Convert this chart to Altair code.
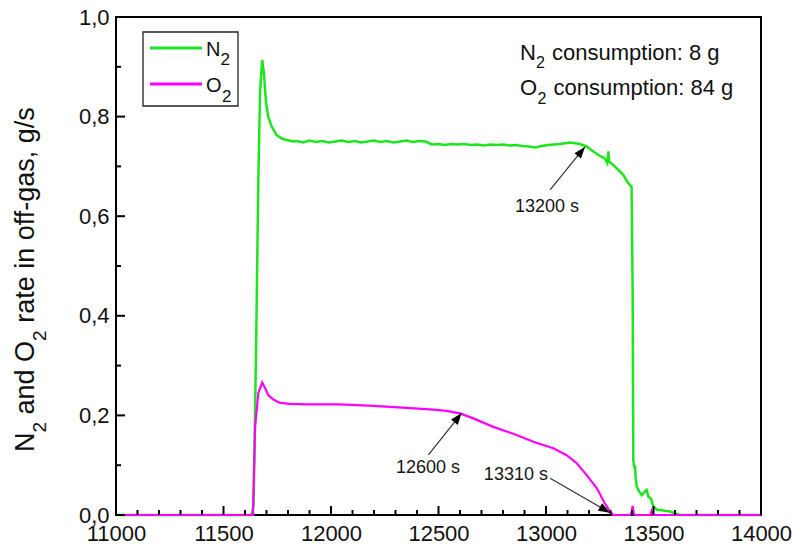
import math
import altair as alt
import pandas as pd

# ---------------- data ----------------
n2_t = [11000, 11630, 11640, 11652, 11662, 11670, 11680, 11688, 11698, 11708, 11724, 11747,
        11771, 11794, 11823, 11840, 11870, 11900, 11930, 11960, 11990, 12020, 12050, 12080,
        12110, 12140, 12170, 12200, 12230, 12260, 12290, 12320, 12350, 12380, 12410, 12440,
        12470, 12500, 12530, 12560, 12590, 12620, 12650, 12680, 12710, 12740, 12770, 12800,
        12830, 12860, 12890, 12920, 12950, 12980, 13010, 13065, 13112, 13158, 13189, 13220,
        13251, 13274, 13285, 13290, 13294, 13313, 13336, 13359, 13378, 13390, 13398, 13403,
        13406, 13410, 13414, 13417, 13422, 13434, 13445, 13460, 13468, 13476, 13487, 13491,
        13499, 13515, 13544, 13577, 13623, 14000]
n2_v = [0.0, 0.0, 0.02, 0.35, 0.67, 0.85, 0.914, 0.887, 0.827, 0.800, 0.780, 0.763,
        0.756, 0.753, 0.750, 0.751, 0.748, 0.752, 0.749, 0.751, 0.748, 0.750, 0.752, 0.749,
        0.751, 0.748, 0.750, 0.752, 0.749, 0.751, 0.748, 0.750, 0.752, 0.749, 0.751, 0.750,
        0.744, 0.745, 0.743, 0.745, 0.744, 0.745, 0.743, 0.744, 0.742, 0.744, 0.743, 0.744,
        0.742, 0.743, 0.741, 0.740, 0.738, 0.741, 0.743, 0.745, 0.748, 0.745, 0.740, 0.730,
        0.721, 0.716, 0.707, 0.730, 0.709, 0.703, 0.693, 0.683, 0.669, 0.663, 0.659, 0.450,
        0.110, 0.095, 0.100, 0.075, 0.057, 0.047, 0.040, 0.047, 0.050, 0.037, 0.033, 0.030,
        0.017, 0.011, 0.009, 0.007, 0.0, 0.0]

o2_t = [11000, 11637, 11647, 11662, 11680, 11693, 11708, 11732, 11763, 11809, 11887, 12042,
        12197, 12352, 12460, 12538, 12600, 12662, 12755, 12848, 12941, 13034, 13096, 13143,
        13189, 13236, 13274, 13298, 13313, 13390, 13398, 13403, 13408, 13414, 13485, 13491,
        13497, 14000]
o2_v = [0.0, 0.0, 0.177, 0.245, 0.266, 0.255, 0.241, 0.232, 0.225, 0.223, 0.222, 0.222,
        0.219, 0.215, 0.212, 0.209, 0.204, 0.194, 0.177, 0.163, 0.147, 0.134, 0.120, 0.104,
        0.080, 0.054, 0.023, 0.007, 0.0, 0.0, 0.005, 0.018, 0.004, 0.0, 0.0, 0.008,
        0.0, 0.0]

x_major = [11000, 11500, 12000, 12500, 13000, 13500, 14000]
x_minor = [11100, 11200, 11300, 11400, 11600, 11700, 11800, 11900, 12100, 12200, 12300,
           12400, 12600, 12700, 12800, 12900, 13100, 13200, 13300, 13400, 13600, 13700,
           13800, 13900]
y_major = [0.0, 0.2, 0.4, 0.6, 0.8, 1.0]
y_minor = [0.1, 0.3, 0.5, 0.7, 0.9]

ann_text = ["13200 s", "12600 s", "13310 s"]
ann_tx = [13005, 12451, 12860]
ann_ty = [0.618, 0.094, 0.080]
arr_t0 = [13019, 12453, 13019]
arr_v0 = [0.653, 0.1205, 0.0737]
arr_t1 = [13181, 12607, 13297]
arr_v1 = [0.739, 0.2042, 0.0047]

# text pieces (main text and subscript "2" drawn separately)
legend_main = ["N", "O"]
cons_main = ["N", "O"]
cons_rest = ["consumption: 8 g", "consumption: 84 g"]
title_parts = ["N", "2", "and O", "2", "rate in off-gas, g/s"]

# ---------------- layout ----------------
W, H = 645, 498
XD = [11000, 14000]
YD = [0.0, 1.0]
FONT = "Liberation Sans"
GREEN = "#1ee61e"
MAGENTA = "#ff00ff"
INK = "#111111"

xs = alt.Scale(domain=XD, nice=False, zero=False)
ys = alt.Scale(domain=YD, nice=False, zero=False)

px_per_t = W / (XD[1] - XD[0])
px_per_v = H / (YD[1] - YD[0])
angles = []
for a, b, c, d in zip(arr_t0, arr_v0, arr_t1, arr_v1):
    dx = (c - a) * px_per_t
    dy = -(d - b) * px_per_v
    angles.append(math.degrees(math.atan2(dx, -dy)) % 360)

lines_n2 = pd.DataFrame({"t": n2_t, "v": n2_v})
lines_o2 = pd.DataFrame({"t": o2_t, "v": o2_v})

n2_line = alt.Chart(lines_n2).mark_line(color=GREEN, strokeWidth=2.5).encode(
    x=alt.X("t:Q", scale=xs,
            axis=alt.Axis(values=x_major, title=None, labelFontSize=22, labelFont=FONT,
                          labelColor=INK, labelPadding=8, domain=False, ticks=False,
                          grid=False, labelFlush=False, labelOverlap=False, format="d")),
    y=alt.Y("v:Q", scale=ys,
            axis=alt.Axis(values=y_major, title=None, labelFontSize=22, labelFont=FONT,
                          labelColor=INK, labelPadding=7, domain=False, ticks=False,
                          grid=False, labelFlush=False, labelOverlap=False,
                          labelExpr="replace(format(datum.value, '.1f'), '.', ',')")),
)
o2_line = alt.Chart(lines_o2).mark_line(color=MAGENTA, strokeWidth=2.2).encode(
    x=alt.X("t:Q", scale=xs), y=alt.Y("v:Q", scale=ys))

# inward ticks
xt_major = alt.Chart(pd.DataFrame({"t": x_major})).mark_rule(color="black", strokeWidth=2).encode(
    x=alt.X("t:Q", scale=xs), y=alt.value(H), y2=alt.value(H - 9))
xt_minor = alt.Chart(pd.DataFrame({"t": x_minor})).mark_rule(color="black", strokeWidth=2).encode(
    x=alt.X("t:Q", scale=xs), y=alt.value(H), y2=alt.value(H - 5))
yt_major = alt.Chart(pd.DataFrame({"v": y_major})).mark_rule(color="black", strokeWidth=2).encode(
    y=alt.Y("v:Q", scale=ys), x=alt.value(0), x2=alt.value(9))
yt_minor = alt.Chart(pd.DataFrame({"v": y_minor})).mark_rule(color="black", strokeWidth=2).encode(
    y=alt.Y("v:Q", scale=ys), x=alt.value(0), x2=alt.value(5))

# annotations
ann_df = pd.DataFrame({"label": ann_text, "t": ann_tx, "v": ann_ty})
ann = alt.Chart(ann_df).mark_text(font=FONT, fontSize=18, color="#151515",
                                  align="center", baseline="middle").encode(
    x=alt.X("t:Q", scale=xs), y=alt.Y("v:Q", scale=ys), text="label:N")

arr_df = pd.DataFrame({"t0": arr_t0, "v0": arr_v0, "t1": arr_t1, "v1": arr_v1, "ang": angles})
arr_lines = alt.Chart(arr_df).mark_rule(color="#333333", strokeWidth=1.2).encode(
    x=alt.X("t0:Q", scale=xs), y=alt.Y("v0:Q", scale=ys),
    x2="t1:Q", y2="v1:Q")
arr_heads = alt.Chart(arr_df).mark_point(
    shape="M0,0 L0.75,2 L-0.75,2 Z", filled=True, size=130, color="black", opacity=1
).encode(x=alt.X("t1:Q", scale=xs), y=alt.Y("v1:Q", scale=ys),
         angle=alt.Angle("ang:Q", scale=None))

one = pd.DataFrame({"k": [0]})


def txt(s, x, y, size, angle=0):
    kw = dict(text=s, font=FONT, fontSize=size, color=INK, align="left",
              baseline="alphabetic")
    if angle:
        kw["angle"] = angle
    return alt.Chart(one).mark_text(**kw).encode(x=alt.value(x), y=alt.value(y))


# legend (manual)
leg_box = alt.Chart(one).mark_rect(fill="white", stroke="#222222", strokeWidth=1.3).encode(
    x=alt.value(27), x2=alt.value(122), y=alt.value(15), y2=alt.value(89))
leg_n2 = alt.Chart(one).mark_rule(color=GREEN, strokeWidth=3).encode(
    x=alt.value(34), x2=alt.value(86), y=alt.value(31))
leg_o2 = alt.Chart(one).mark_rule(color=MAGENTA, strokeWidth=3).encode(
    x=alt.value(34), x2=alt.value(86), y=alt.value(67))
leg_texts = [
    txt(legend_main[0], 90, 39, 20), txt("2", 104.5, 48, 17),
    txt(legend_main[1], 90, 74.5, 20), txt("2", 106, 84.5, 17),
]

cons_texts = [
    txt(cons_main[0], 404, 42.5, 22), txt("2", 420, 51, 16), txt(cons_rest[0], 436, 42.5, 22),
    txt(cons_main[1], 404, 77.5, 22), txt("2", 421.5, 86.5, 16), txt(cons_rest[1], 437.5, 77.5, 22),
]

# rotated y-axis title built from pieces (runs upward)
TF, TS = 27, 19
SP = 0.278 * TF
advance = [0.722 * TF, 0.556 * TS + SP, 2.724 * TF, 0.556 * TS + SP, 8.004 * TF]
y_cur = 435.0
title_texts = []
for i, part in enumerate(title_parts):
    is_sub = part == "2"
    title_texts.append(txt(part, -70 if is_sub else -82, y_cur, TS if is_sub else TF, angle=270))
    y_cur -= advance[i]

chart = alt.layer(
    n2_line, o2_line, xt_major, xt_minor, yt_major, yt_minor,
    arr_lines, arr_heads, ann, leg_box, leg_n2, leg_o2,
    *leg_texts, *cons_texts, *title_texts
).properties(
    width=W, height=H,
    autosize=alt.AutoSizeParams(type="none"),
    padding={"left": 116, "top": 17, "right": 31, "bottom": 34},
    background="white",
).configure_view(stroke="black", strokeWidth=2)

chart.save("out.html", embed_options={"renderer": "svg", "actions": False})
